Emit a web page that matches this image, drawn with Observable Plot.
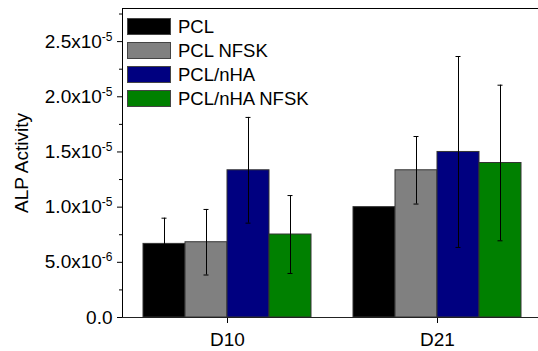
<!DOCTYPE html>
<html><head><meta charset="utf-8">
<script src="https://cdn.jsdelivr.net/npm/d3@7"></script>
<script src="https://cdn.jsdelivr.net/npm/@observablehq/plot@0.6"></script>
<style>
html,body{margin:0;padding:0;background:#fff;overflow:hidden;font-family:"Liberation Sans",Arial,sans-serif}
#wrap{position:relative;width:538px;height:351px;overflow:hidden}
#legend{position:absolute;left:127px;top:15px;font-size:18.5px;color:#000}
.item{display:flex;align-items:center;height:23.9px}
.item .sw{width:44px;height:17px;box-sizing:border-box;border:1px solid #444;margin-right:7px}
.item span{line-height:17px;white-space:nowrap}
</style>
</head><body>
<div id="wrap"><div id="legend"></div></div>
<script>
const days = ["D10", "D21"];
const series = ["PCL", "PCL NFSK", "PCL/nHA", "PCL/nHA NFSK"];
const colors = ["#000000", "#808080", "#000080", "#008000"];
const d10Mean = [6.67e-6, 6.82e-6, 13.34e-6, 7.52e-6];
const d10Err  = [2.33e-6, 2.97e-6, 4.79e-6, 3.53e-6];
const d21Mean = [10.0e-6, 13.34e-6, 15.0e-6, 14.0e-6];
const d21Err  = [0, 3.06e-6, 8.65e-6, 7.05e-6];
const yTicks = [0, 5e-6, 1e-5, 1.5e-5, 2e-5, 2.5e-5];
const yTickLabels = ["0.0", "5.0x10^-6", "1.0x10^-5", "1.5x10^-5", "2.0x10^-5", "2.5x10^-5"];
const yMinorTicks = [2.5e-6, 7.5e-6, 1.25e-5, 1.75e-5, 2.25e-5, 2.75e-5];

const data = [];
days.forEach((day, di) => {
  const means = di === 0 ? d10Mean : d21Mean;
  const errs = di === 0 ? d10Err : d21Err;
  series.forEach((s, si) => data.push({day, series: s, mean: means[si], err: errs[si]}));
});
const withErr = data.filter(d => d.err > 0);
const labelMap = new Map(yTicks.map((t, i) => [t, yTickLabels[i]]));

const chart = Plot.plot({
  width: 538, height: 351,
  marginTop: 8, marginBottom: 34, marginLeft: 121, marginRight: -4,
  style: {fontFamily: "Liberation Sans, Arial, sans-serif", fontSize: "18.5px", color: "#000", background: "#fff"},
  fx: {domain: days, padding: 0, label: null, axis: null},
  x: {domain: series, paddingInner: 0, paddingOuter: 0.5, axis: null},
  y: {domain: [0, 2.8e-5], label: null, axis: null},
  color: {domain: series, range: colors},
  marks: [
    Plot.barY(data, {fx: "day", x: "series", y: "mean", fill: "series", stroke: "#333", strokeWidth: 1}),
    Plot.ruleX(withErr, {fx: "day", x: "series", y1: d => d.mean - d.err, y2: d => d.mean + d.err, stroke: "#000", strokeWidth: 1}),
    Plot.tickY(withErr, {fx: "day", x: "series", y: d => d.mean + d.err, stroke: "#000", insetLeft: 18.5, insetRight: 18.5}),
    Plot.tickY(withErr, {fx: "day", x: "series", y: d => d.mean - d.err, stroke: "#000", insetLeft: 18.5, insetRight: 18.5}),
    Plot.axisY({ticks: yTicks, tickFormat: d => labelMap.get(d), tickSize: 5, tickPadding: 5, stroke: "#000",
      fontSize: 19, label: "ALP Activity", labelAnchor: "center", labelOffset: 108, labelArrow: "none"}),
    Plot.axisY({ticks: yMinorTicks, tickFormat: () => "", tickSize: 3, label: null, stroke: "#000"}),
    Plot.axisFx({anchor: "bottom", tickSize: 6, tickPadding: 9, label: null, stroke: "#000", fontSize: 19}),
    Plot.frame({facet: "super", anchor: "top", stroke: "#000", strokeWidth: 1}),
    Plot.frame({facet: "super", anchor: "left", stroke: "#000", strokeWidth: 1}),
    Plot.frame({facet: "super", anchor: "bottom", stroke: "#222", strokeWidth: 1})
  ]
});

// superscript exponents in y tick labels
d3.select(chart).selectAll("text").each(function() {
  const t = this.textContent;
  if (t.includes("^")) {
    const [base, exp] = t.split("^");
    const sel = d3.select(this);
    sel.text(base);
    sel.append("tspan").attr("font-size", "12px").attr("dy", "-7px").text(exp);
  }
});

document.getElementById("wrap").prepend(chart);

const legend = d3.select("#legend");
series.forEach((s, i) => {
  const it = legend.append("div").attr("class", "item");
  it.append("div").attr("class", "sw").style("background", colors[i]);
  it.append("span").text(s);
});
</script>
</body></html>
